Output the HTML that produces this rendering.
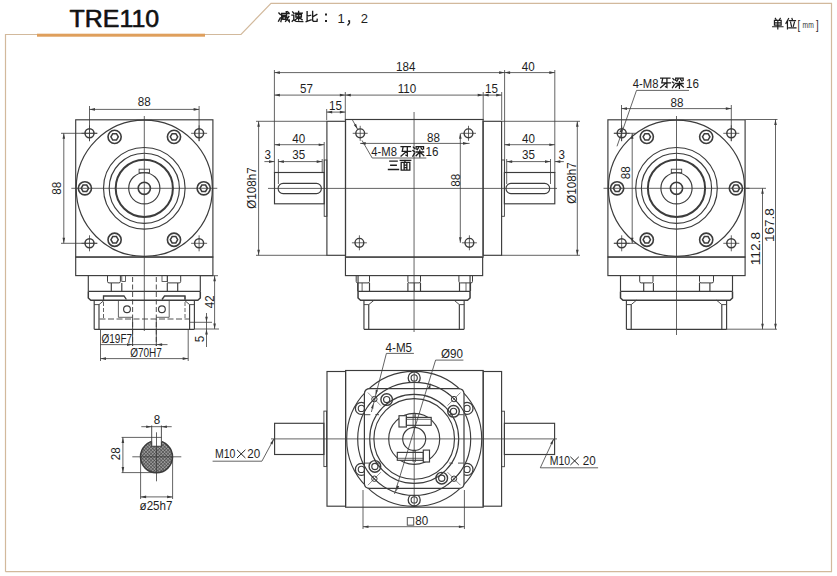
<!DOCTYPE html>
<html><head><meta charset="utf-8"><style>
html,body{margin:0;padding:0;background:#fff;}
svg{display:block;}
</style></head><body>
<svg width="837" height="576" viewBox="0 0 837 576">
<rect width="837" height="576" fill="#fff"/>
<polyline points="5.5,571.7 5.5,34.5 241,34.5 271,3.3 831.5,3.3 831.5,571.7 5.5,571.7" fill="none" stroke="#d2b99c" stroke-width="1.2"/>
<rect x="37" y="33.7" width="168" height="3" fill="#df9f5c"/>
<text x="0" y="0" transform="translate(69.6,27) scale(1.06,1)" font-family="Liberation Sans" font-size="23.5" fill="#111" stroke="#111" stroke-width="0.6" stroke-linejoin="round">TRE110</text>
<rect x="75.7" y="119.8" width="137.2" height="137.2" fill="none" stroke="#3c3c3c" stroke-width="1.15"/>
<circle cx="144.3" cy="188.3" r="68.1" fill="none" stroke="#3c3c3c" stroke-width="1.2"/>
<circle cx="144.3" cy="188.3" r="40.8" fill="none" stroke="#3c3c3c" stroke-width="1.15"/>
<circle cx="144.3" cy="188.3" r="35.1" fill="none" stroke="#3c3c3c" stroke-width="1.15"/>
<circle cx="144.3" cy="188.3" r="28.6" fill="none" stroke="#3c3c3c" stroke-width="2.0"/>
<circle cx="144.3" cy="188.3" r="15.6" fill="none" stroke="#3c3c3c" stroke-width="1.15"/>
<circle cx="144.3" cy="188.3" r="6.1" fill="none" stroke="#3c3c3c" stroke-width="1.6"/>
<rect x="139.1" y="169.2" width="10.4" height="3.5" fill="none" stroke="#3c3c3c" stroke-width="0.9"/>
<circle cx="203.7" cy="188.3" r="6.6" fill="none" stroke="#3c3c3c" stroke-width="1.6"/>
<polygon points="207.4,188.3 205.55,191.5 201.85,191.5 200,188.3 201.85,185.1 205.55,185.1" fill="none" stroke="#3c3c3c" stroke-width="1.5"/>
<circle cx="174" cy="239.74" r="6.6" fill="none" stroke="#3c3c3c" stroke-width="1.6"/>
<polygon points="177.7,239.74 175.85,242.95 172.15,242.95 170.3,239.74 172.15,236.54 175.85,236.54" fill="none" stroke="#3c3c3c" stroke-width="1.5"/>
<circle cx="114.6" cy="239.74" r="6.6" fill="none" stroke="#3c3c3c" stroke-width="1.6"/>
<polygon points="118.3,239.74 116.45,242.95 112.75,242.95 110.9,239.74 112.75,236.54 116.45,236.54" fill="none" stroke="#3c3c3c" stroke-width="1.5"/>
<circle cx="84.9" cy="188.3" r="6.6" fill="none" stroke="#3c3c3c" stroke-width="1.6"/>
<polygon points="88.6,188.3 86.75,191.5 83.05,191.5 81.2,188.3 83.05,185.1 86.75,185.1" fill="none" stroke="#3c3c3c" stroke-width="1.5"/>
<circle cx="114.6" cy="136.86" r="6.6" fill="none" stroke="#3c3c3c" stroke-width="1.6"/>
<polygon points="118.3,136.86 116.45,140.06 112.75,140.06 110.9,136.86 112.75,133.65 116.45,133.65" fill="none" stroke="#3c3c3c" stroke-width="1.5"/>
<circle cx="174" cy="136.86" r="6.6" fill="none" stroke="#3c3c3c" stroke-width="1.6"/>
<polygon points="177.7,136.86 175.85,140.06 172.15,140.06 170.3,136.86 172.15,133.65 175.85,133.65" fill="none" stroke="#3c3c3c" stroke-width="1.5"/>
<circle cx="89.5" cy="133.3" r="4.5" fill="none" stroke="#3c3c3c" stroke-width="1.5"/>
<line x1="81.5" y1="133.3" x2="97.5" y2="133.3" stroke="#3c3c3c" stroke-width="0.8"/>
<line x1="89.5" y1="125.3" x2="89.5" y2="141.3" stroke="#3c3c3c" stroke-width="0.8"/>
<circle cx="89.5" cy="243.3" r="4.5" fill="none" stroke="#3c3c3c" stroke-width="1.5"/>
<line x1="81.5" y1="243.3" x2="97.5" y2="243.3" stroke="#3c3c3c" stroke-width="0.8"/>
<line x1="89.5" y1="235.3" x2="89.5" y2="251.3" stroke="#3c3c3c" stroke-width="0.8"/>
<circle cx="199.1" cy="133.3" r="4.5" fill="none" stroke="#3c3c3c" stroke-width="1.5"/>
<line x1="191.1" y1="133.3" x2="207.1" y2="133.3" stroke="#3c3c3c" stroke-width="0.8"/>
<line x1="199.1" y1="125.3" x2="199.1" y2="141.3" stroke="#3c3c3c" stroke-width="0.8"/>
<circle cx="199.1" cy="243.3" r="4.5" fill="none" stroke="#3c3c3c" stroke-width="1.5"/>
<line x1="191.1" y1="243.3" x2="207.1" y2="243.3" stroke="#3c3c3c" stroke-width="0.8"/>
<line x1="199.1" y1="235.3" x2="199.1" y2="251.3" stroke="#3c3c3c" stroke-width="0.8"/>
<line x1="71.3" y1="188.3" x2="217.3" y2="188.3" stroke="#3c3c3c" stroke-width="0.8"/>
<line x1="144.3" y1="116" x2="144.3" y2="331" stroke="#3c3c3c" stroke-width="0.8"/>
<rect x="75.7" y="257.1" width="137.2" height="18.5" fill="none" stroke="#3c3c3c" stroke-width="1.15"/>
<line x1="88.3" y1="275.6" x2="88.3" y2="291.4" stroke="#3c3c3c" stroke-width="1.15"/>
<line x1="200.3" y1="275.6" x2="200.3" y2="291.4" stroke="#3c3c3c" stroke-width="1.15"/>
<line x1="88.3" y1="291.4" x2="200.3" y2="291.4" stroke="#3c3c3c" stroke-width="1.15"/>
<polyline points="88.3,291.4 88.3,298 90.8,300.2 197.8,300.2 200.3,298 200.3,291.4" fill="none" stroke="#3c3c3c" stroke-width="1.5"/>
<line x1="94.2" y1="300.2" x2="94.2" y2="329.3" stroke="#3c3c3c" stroke-width="1.15"/>
<line x1="194.4" y1="300.2" x2="194.4" y2="329.3" stroke="#3c3c3c" stroke-width="1.15"/>
<line x1="94.2" y1="329.3" x2="194.4" y2="329.3" stroke="#3c3c3c" stroke-width="1.15"/>
<line x1="99" y1="304.6" x2="99" y2="329.3" stroke="#3c3c3c" stroke-width="1.15"/>
<line x1="189.6" y1="304.6" x2="189.6" y2="329.3" stroke="#3c3c3c" stroke-width="1.15"/>
<polyline points="94.2,304.6 99,304.6 104.3,300.2" fill="none" stroke="#3c3c3c" stroke-width="0.9"/>
<polyline points="194.4,304.6 189.6,304.6 184.3,300.2" fill="none" stroke="#3c3c3c" stroke-width="0.9"/>
<path d="M107.5,275.6 L107.5,281.4 Q107.5,282.9 109,282.9 L118.9,282.9 Q120.4,282.9 120.4,281.4 L120.4,275.6" fill="none" stroke="#3c3c3c" stroke-width="1"/>
<line x1="111.3" y1="282.9" x2="111.3" y2="291.4" stroke="#3c3c3c" stroke-width="1.15"/>
<line x1="121.8" y1="282.9" x2="121.8" y2="291.4" stroke="#3c3c3c" stroke-width="1.15"/>
<path d="M167.3,275.6 L167.3,281.4 Q167.3,282.9 168.8,282.9 L179.2,282.9 Q180.7,282.9 180.7,281.4 L180.7,275.6" fill="none" stroke="#3c3c3c" stroke-width="1"/>
<line x1="167.3" y1="282.9" x2="167.3" y2="291.4" stroke="#3c3c3c" stroke-width="1.15"/>
<line x1="177.7" y1="282.9" x2="177.7" y2="291.4" stroke="#3c3c3c" stroke-width="1.15"/>
<rect x="121.8" y="275.6" width="3.7" height="5.9" fill="none" stroke="#3c3c3c" stroke-width="0.8"/>
<rect x="162" y="275.6" width="5.3" height="5.9" fill="none" stroke="#3c3c3c" stroke-width="0.8"/>
<line x1="132.6" y1="277" x2="132.6" y2="346" stroke="#3c3c3c" stroke-width="0.9" stroke-dasharray="5,2.5"/>
<line x1="156.3" y1="277" x2="156.3" y2="346" stroke="#3c3c3c" stroke-width="0.9" stroke-dasharray="5,2.5"/>
<line x1="132.6" y1="319" x2="132.6" y2="346" stroke="#3c3c3c" stroke-width="0.9"/>
<line x1="156.3" y1="319" x2="156.3" y2="346" stroke="#3c3c3c" stroke-width="0.9"/>
<circle cx="127" cy="309.3" r="3.4" fill="none" stroke="#3c3c3c" stroke-width="1.15"/>
<circle cx="161.9" cy="309.3" r="3.4" fill="none" stroke="#3c3c3c" stroke-width="1.15"/>
<polyline points="118.4,300.2 118.4,317.3 132.6,317.3" fill="none" stroke="#3c3c3c" stroke-width="0.8"/>
<polyline points="156.3,317.3 169.2,317.3 169.2,300.2" fill="none" stroke="#3c3c3c" stroke-width="0.8"/>
<line x1="99.5" y1="319" x2="189.5" y2="319" stroke="#3c3c3c" stroke-width="0.9" stroke-dasharray="6,2.5"/>
<line x1="103.5" y1="296" x2="103.5" y2="319" stroke="#3c3c3c" stroke-width="0.8" stroke-dasharray="4,2"/>
<line x1="185" y1="296" x2="185" y2="319" stroke="#3c3c3c" stroke-width="0.8" stroke-dasharray="4,2"/>
<polyline points="103.5,299.5 103.5,296 124,296 126.4,299.5" fill="none" stroke="#3c3c3c" stroke-width="1.3"/>
<polyline points="185,299.5 185,296 164.5,296 162,299.5" fill="none" stroke="#3c3c3c" stroke-width="1.3"/>
<line x1="89.5" y1="106" x2="89.5" y2="141" stroke="#3c3c3c" stroke-width="0.8"/>
<line x1="199.1" y1="106" x2="199.1" y2="141" stroke="#3c3c3c" stroke-width="0.8"/>
<line x1="89.5" y1="109.4" x2="199.1" y2="109.4" stroke="#3c3c3c" stroke-width="0.8"/>
<polygon points="89.5,109.4 95,108.1 95,110.7" fill="#3c3c3c"/>
<polygon points="199.1,109.4 193.6,110.7 193.6,108.1" fill="#3c3c3c"/>
<text x="0" y="0" font-family="Liberation Sans" font-size="12.5" font-weight="normal" text-anchor="middle" fill="#1e1e1e" transform="translate(144.3,106.3) rotate(0) scale(0.93,1)">88</text>
<line x1="61" y1="133.3" x2="97" y2="133.3" stroke="#3c3c3c" stroke-width="0.8"/>
<line x1="61" y1="243.3" x2="97" y2="243.3" stroke="#3c3c3c" stroke-width="0.8"/>
<line x1="63.8" y1="133.3" x2="63.8" y2="243.3" stroke="#3c3c3c" stroke-width="0.8"/>
<polygon points="63.8,133.3 65.1,138.8 62.5,138.8" fill="#3c3c3c"/>
<polygon points="63.8,243.3 62.5,237.8 65.1,237.8" fill="#3c3c3c"/>
<text x="0" y="0" font-family="Liberation Sans" font-size="12.5" font-weight="normal" text-anchor="middle" fill="#1e1e1e" transform="translate(60.8,188.3) rotate(-90) scale(0.93,1)">88</text>
<line x1="201" y1="275.7" x2="218" y2="275.7" stroke="#3c3c3c" stroke-width="0.8"/>
<line x1="194.4" y1="329" x2="219" y2="329" stroke="#3c3c3c" stroke-width="0.8"/>
<line x1="214.6" y1="275.7" x2="214.6" y2="329" stroke="#3c3c3c" stroke-width="0.8"/>
<polygon points="214.6,275.7 215.9,281.2 213.3,281.2" fill="#3c3c3c"/>
<polygon points="214.6,329 213.3,323.5 215.9,323.5" fill="#3c3c3c"/>
<text x="0" y="0" font-family="Liberation Sans" font-size="12.5" font-weight="normal" text-anchor="middle" fill="#1e1e1e" transform="translate(214.3,301.7) rotate(-90) scale(0.93,1)">42</text>
<line x1="190" y1="322.3" x2="212" y2="322.3" stroke="#3c3c3c" stroke-width="0.8"/>
<line x1="206.5" y1="313" x2="206.5" y2="347" stroke="#3c3c3c" stroke-width="0.8"/>
<polygon points="206.5,322.3 205.2,316.8 207.8,316.8" fill="#3c3c3c"/>
<polygon points="206.5,329 207.8,334.5 205.2,334.5" fill="#3c3c3c"/>
<text x="0" y="0" font-family="Liberation Sans" font-size="12.5" font-weight="normal" text-anchor="middle" fill="#1e1e1e" transform="translate(204.3,339) rotate(-90) scale(0.93,1)">5</text>
<line x1="100.5" y1="329" x2="100.5" y2="361" stroke="#3c3c3c" stroke-width="0.8"/>
<line x1="188.2" y1="329" x2="188.2" y2="361" stroke="#3c3c3c" stroke-width="0.8"/>
<line x1="100.5" y1="358.6" x2="188.2" y2="358.6" stroke="#3c3c3c" stroke-width="0.8"/>
<polygon points="100.5,358.6 106,357.3 106,359.9" fill="#3c3c3c"/>
<polygon points="188.2,358.6 182.7,359.9 182.7,357.3" fill="#3c3c3c"/>
<text x="0" y="0" font-family="Liberation Sans" font-size="12.5" font-weight="normal" text-anchor="middle" fill="#1e1e1e" transform="translate(146,357) rotate(0) scale(0.8,1)">Ø70H7</text>
<line x1="100.5" y1="344.6" x2="167.5" y2="344.6" stroke="#3c3c3c" stroke-width="0.8"/>
<polygon points="132.5,344.6 127,345.9 127,343.3" fill="#3c3c3c"/>
<polygon points="156.6,344.6 162.1,343.3 162.1,345.9" fill="#3c3c3c"/>
<text x="0" y="0" font-family="Liberation Sans" font-size="12.5" font-weight="normal" text-anchor="middle" fill="#1e1e1e" transform="translate(116.8,342.6) rotate(0) scale(0.8,1)">Ø19F7</text>
<rect x="607.9" y="119.8" width="137.2" height="137.2" fill="none" stroke="#3c3c3c" stroke-width="1.15"/>
<circle cx="676.5" cy="188.3" r="68.1" fill="none" stroke="#3c3c3c" stroke-width="1.2"/>
<circle cx="676.5" cy="188.3" r="40.8" fill="none" stroke="#3c3c3c" stroke-width="1.15"/>
<circle cx="676.5" cy="188.3" r="35.1" fill="none" stroke="#3c3c3c" stroke-width="1.15"/>
<circle cx="676.5" cy="188.3" r="28.6" fill="none" stroke="#3c3c3c" stroke-width="2.0"/>
<circle cx="676.5" cy="188.3" r="15.6" fill="none" stroke="#3c3c3c" stroke-width="1.15"/>
<circle cx="676.5" cy="188.3" r="6.1" fill="none" stroke="#3c3c3c" stroke-width="1.6"/>
<rect x="671.3" y="169.2" width="10.4" height="3.5" fill="none" stroke="#3c3c3c" stroke-width="0.9"/>
<circle cx="735.9" cy="188.3" r="6.6" fill="none" stroke="#3c3c3c" stroke-width="1.6"/>
<polygon points="739.6,188.3 737.75,191.5 734.05,191.5 732.2,188.3 734.05,185.1 737.75,185.1" fill="none" stroke="#3c3c3c" stroke-width="1.5"/>
<circle cx="706.2" cy="239.74" r="6.6" fill="none" stroke="#3c3c3c" stroke-width="1.6"/>
<polygon points="709.9,239.74 708.05,242.95 704.35,242.95 702.5,239.74 704.35,236.54 708.05,236.54" fill="none" stroke="#3c3c3c" stroke-width="1.5"/>
<circle cx="646.8" cy="239.74" r="6.6" fill="none" stroke="#3c3c3c" stroke-width="1.6"/>
<polygon points="650.5,239.74 648.65,242.95 644.95,242.95 643.1,239.74 644.95,236.54 648.65,236.54" fill="none" stroke="#3c3c3c" stroke-width="1.5"/>
<circle cx="617.1" cy="188.3" r="6.6" fill="none" stroke="#3c3c3c" stroke-width="1.6"/>
<polygon points="620.8,188.3 618.95,191.5 615.25,191.5 613.4,188.3 615.25,185.1 618.95,185.1" fill="none" stroke="#3c3c3c" stroke-width="1.5"/>
<circle cx="646.8" cy="136.86" r="6.6" fill="none" stroke="#3c3c3c" stroke-width="1.6"/>
<polygon points="650.5,136.86 648.65,140.06 644.95,140.06 643.1,136.86 644.95,133.65 648.65,133.65" fill="none" stroke="#3c3c3c" stroke-width="1.5"/>
<circle cx="706.2" cy="136.86" r="6.6" fill="none" stroke="#3c3c3c" stroke-width="1.6"/>
<polygon points="709.9,136.86 708.05,140.06 704.35,140.06 702.5,136.86 704.35,133.65 708.05,133.65" fill="none" stroke="#3c3c3c" stroke-width="1.5"/>
<circle cx="621.7" cy="133.3" r="4.5" fill="none" stroke="#3c3c3c" stroke-width="1.5"/>
<line x1="613.7" y1="133.3" x2="629.7" y2="133.3" stroke="#3c3c3c" stroke-width="0.8"/>
<line x1="621.7" y1="125.3" x2="621.7" y2="141.3" stroke="#3c3c3c" stroke-width="0.8"/>
<circle cx="621.7" cy="243.3" r="4.5" fill="none" stroke="#3c3c3c" stroke-width="1.5"/>
<line x1="613.7" y1="243.3" x2="629.7" y2="243.3" stroke="#3c3c3c" stroke-width="0.8"/>
<line x1="621.7" y1="235.3" x2="621.7" y2="251.3" stroke="#3c3c3c" stroke-width="0.8"/>
<circle cx="731.3" cy="133.3" r="4.5" fill="none" stroke="#3c3c3c" stroke-width="1.5"/>
<line x1="723.3" y1="133.3" x2="739.3" y2="133.3" stroke="#3c3c3c" stroke-width="0.8"/>
<line x1="731.3" y1="125.3" x2="731.3" y2="141.3" stroke="#3c3c3c" stroke-width="0.8"/>
<circle cx="731.3" cy="243.3" r="4.5" fill="none" stroke="#3c3c3c" stroke-width="1.5"/>
<line x1="723.3" y1="243.3" x2="739.3" y2="243.3" stroke="#3c3c3c" stroke-width="0.8"/>
<line x1="731.3" y1="235.3" x2="731.3" y2="251.3" stroke="#3c3c3c" stroke-width="0.8"/>
<line x1="603.5" y1="188.3" x2="749.5" y2="188.3" stroke="#3c3c3c" stroke-width="0.8"/>
<line x1="676.5" y1="116" x2="676.5" y2="335" stroke="#3c3c3c" stroke-width="0.8"/>
<rect x="607.9" y="257.1" width="137.2" height="18.5" fill="none" stroke="#3c3c3c" stroke-width="1.15"/>
<line x1="620.5" y1="275.6" x2="620.5" y2="291.4" stroke="#3c3c3c" stroke-width="1.15"/>
<line x1="732.5" y1="275.6" x2="732.5" y2="291.4" stroke="#3c3c3c" stroke-width="1.15"/>
<line x1="620.5" y1="291.4" x2="732.5" y2="291.4" stroke="#3c3c3c" stroke-width="1.15"/>
<polyline points="620.5,291.4 620.5,298 623,300.2 730,300.2 732.5,298 732.5,291.4" fill="none" stroke="#3c3c3c" stroke-width="1.5"/>
<line x1="626.4" y1="300.2" x2="626.4" y2="329.3" stroke="#3c3c3c" stroke-width="1.15"/>
<line x1="726.6" y1="300.2" x2="726.6" y2="329.3" stroke="#3c3c3c" stroke-width="1.15"/>
<line x1="626.4" y1="329.3" x2="726.6" y2="329.3" stroke="#3c3c3c" stroke-width="1.15"/>
<line x1="631.2" y1="304.6" x2="631.2" y2="329.3" stroke="#3c3c3c" stroke-width="1.15"/>
<line x1="721.8" y1="304.6" x2="721.8" y2="329.3" stroke="#3c3c3c" stroke-width="1.15"/>
<polyline points="626.4,304.6 631.2,304.6 636.5,300.2" fill="none" stroke="#3c3c3c" stroke-width="0.9"/>
<polyline points="726.6,304.6 721.8,304.6 716.5,300.2" fill="none" stroke="#3c3c3c" stroke-width="0.9"/>
<path d="M639.7,275.6 L639.7,281.4 Q639.7,282.9 641.2,282.9 L651.5,282.9 Q653,282.9 653,281.4 L653,275.6" fill="none" stroke="#3c3c3c" stroke-width="1"/>
<line x1="643.7" y1="282.9" x2="643.7" y2="291.4" stroke="#3c3c3c" stroke-width="1.15"/>
<line x1="653.4" y1="282.9" x2="653.4" y2="291.4" stroke="#3c3c3c" stroke-width="1.15"/>
<path d="M699.5,275.6 L699.5,281.4 Q699.5,282.9 701,282.9 L712,282.9 Q713.5,282.9 713.5,281.4 L713.5,275.6" fill="none" stroke="#3c3c3c" stroke-width="1"/>
<line x1="699.5" y1="282.9" x2="699.5" y2="291.4" stroke="#3c3c3c" stroke-width="1.15"/>
<line x1="709.9" y1="282.9" x2="709.9" y2="291.4" stroke="#3c3c3c" stroke-width="1.15"/>
<line x1="621.5" y1="105" x2="621.5" y2="141" stroke="#3c3c3c" stroke-width="0.8"/>
<line x1="731.3" y1="105" x2="731.3" y2="141" stroke="#3c3c3c" stroke-width="0.8"/>
<line x1="621.5" y1="108.6" x2="731.3" y2="108.6" stroke="#3c3c3c" stroke-width="0.8"/>
<polygon points="621.5,108.6 627,107.3 627,109.9" fill="#3c3c3c"/>
<polygon points="731.3,108.6 725.8,109.9 725.8,107.3" fill="#3c3c3c"/>
<text x="0" y="0" font-family="Liberation Sans" font-size="12.5" font-weight="normal" text-anchor="middle" fill="#1e1e1e" transform="translate(677,107.3) rotate(0) scale(0.93,1)">88</text>
<line x1="614" y1="133.3" x2="636" y2="133.3" stroke="#3c3c3c" stroke-width="0.8"/>
<line x1="614" y1="243.3" x2="636" y2="243.3" stroke="#3c3c3c" stroke-width="0.8"/>
<line x1="632.2" y1="133.3" x2="632.2" y2="243.3" stroke="#3c3c3c" stroke-width="0.8"/>
<polygon points="632.2,133.3 633.5,138.8 630.9,138.8" fill="#3c3c3c"/>
<polygon points="632.2,243.3 630.9,237.8 633.5,237.8" fill="#3c3c3c"/>
<text x="0" y="0" font-family="Liberation Sans" font-size="12.5" font-weight="normal" text-anchor="middle" fill="#1e1e1e" transform="translate(629.8,172.8) rotate(-90) scale(0.93,1)">88</text>
<line x1="745.3" y1="119.5" x2="777.5" y2="119.5" stroke="#3c3c3c" stroke-width="0.8"/>
<line x1="746" y1="188.3" x2="766" y2="188.3" stroke="#3c3c3c" stroke-width="0.8"/>
<line x1="726" y1="329.2" x2="777" y2="329.2" stroke="#3c3c3c" stroke-width="0.8"/>
<line x1="775.5" y1="119.5" x2="775.5" y2="329.2" stroke="#3c3c3c" stroke-width="0.8"/>
<polygon points="775.5,119.5 776.8,125 774.2,125" fill="#3c3c3c"/>
<polygon points="775.5,329.2 774.2,323.7 776.8,323.7" fill="#3c3c3c"/>
<line x1="762.5" y1="188.3" x2="762.5" y2="329.2" stroke="#3c3c3c" stroke-width="0.8"/>
<polygon points="762.5,188.3 763.8,193.8 761.2,193.8" fill="#3c3c3c"/>
<polygon points="762.5,329.2 761.2,323.7 763.8,323.7" fill="#3c3c3c"/>
<text x="0" y="0" font-family="Liberation Sans" font-size="12.5" font-weight="normal" text-anchor="middle" fill="#1e1e1e" transform="translate(773.6,225.1) rotate(-90) scale(1.08,1)">167.8</text>
<text x="0" y="0" font-family="Liberation Sans" font-size="12.5" font-weight="normal" text-anchor="middle" fill="#1e1e1e" transform="translate(759.6,248.6) rotate(-90) scale(1.1,1)">112.8</text>
<line x1="617" y1="146.3" x2="636.5" y2="90.4" stroke="#3c3c3c" stroke-width="0.8"/>
<line x1="636.5" y1="90.4" x2="689" y2="90.4" stroke="#3c3c3c" stroke-width="0.8"/>
<polygon points="622.5,127 621.92,132.62 619.46,131.76" fill="#3c3c3c"/>
<text x="0" y="0" font-family="Liberation Sans" font-size="12.5" font-weight="normal" text-anchor="start" fill="#1e1e1e" transform="translate(632.8,88.3) rotate(0) scale(0.9,1)">4-M8</text>
<path d="M660.66,78.16 L669.94,78.16 M662.75,78.16 L661.82,82.80 L670.40,82.80 M666.92,78.16 L666.92,87.44 L665.53,86.74 M666.23,82.80 L660.66,87.67" fill="none" stroke="#1e1e1e" stroke-width="1.3" stroke-linecap="square" stroke-linejoin="miter"/>
<path d="M672.93,78.62 L674.09,79.78 M672.46,82.10 L673.86,83.03 M672.46,87.67 L674.32,84.66 M675.71,80.25 L675.71,78.16 L683.14,78.16 L683.14,80.25 M678.03,79.32 L676.87,81.18 M680.58,79.32 L681.98,81.18 M675.71,83.50 L683.14,83.50 M679.42,81.64 L679.42,88.37 M679.19,83.73 L675.71,87.21 M679.66,83.73 L683.37,86.98" fill="none" stroke="#1e1e1e" stroke-width="1.3" stroke-linecap="square" stroke-linejoin="miter"/>
<text x="0" y="0" font-family="Liberation Sans" font-size="12.5" font-weight="normal" text-anchor="start" fill="#1e1e1e" transform="translate(686,88.3) rotate(0) scale(0.93,1)">16</text>
<rect x="345.5" y="119.5" width="137.6" height="137.6" fill="none" stroke="#3c3c3c" stroke-width="1.15"/>
<rect x="326.9" y="121.3" width="18.6" height="134" fill="none" stroke="#3c3c3c" stroke-width="1.15"/>
<rect x="483.1" y="121.3" width="18.5" height="134" fill="none" stroke="#3c3c3c" stroke-width="1.15"/>
<rect x="324.2" y="160" width="2.7" height="56.3" fill="none" stroke="#3c3c3c" stroke-width="0.9"/>
<rect x="501.6" y="160" width="2.8" height="56.3" fill="none" stroke="#3c3c3c" stroke-width="0.9"/>
<rect x="274.5" y="172.5" width="49.7" height="31.3" fill="none" stroke="#3c3c3c" stroke-width="1.15"/>
<rect x="504.4" y="172.5" width="50.4" height="31.3" fill="none" stroke="#3c3c3c" stroke-width="1.15"/>
<rect x="278.1" y="183.4" width="43.3" height="10.2" rx="5" fill="none" stroke="#3c3c3c" stroke-width="1.15"/>
<rect x="506" y="183.4" width="43.7" height="10.2" rx="5" fill="none" stroke="#3c3c3c" stroke-width="1.15"/>
<line x1="268" y1="188.4" x2="557" y2="188.4" stroke="#3c3c3c" stroke-width="0.8"/>
<line x1="414.05" y1="112" x2="414.05" y2="332" stroke="#3c3c3c" stroke-width="0.8"/>
<circle cx="360.2" cy="133.3" r="4.4" fill="none" stroke="#3c3c3c" stroke-width="1.4"/>
<line x1="352.7" y1="133.3" x2="367.7" y2="133.3" stroke="#3c3c3c" stroke-width="0.8"/>
<line x1="360.2" y1="125.8" x2="360.2" y2="140.8" stroke="#3c3c3c" stroke-width="0.8"/>
<circle cx="468.5" cy="133.3" r="4.4" fill="none" stroke="#3c3c3c" stroke-width="1.4"/>
<line x1="461" y1="133.3" x2="476" y2="133.3" stroke="#3c3c3c" stroke-width="0.8"/>
<line x1="468.5" y1="125.8" x2="468.5" y2="140.8" stroke="#3c3c3c" stroke-width="0.8"/>
<circle cx="359.4" cy="242.8" r="4.4" fill="none" stroke="#3c3c3c" stroke-width="1.4"/>
<line x1="351.9" y1="242.8" x2="366.9" y2="242.8" stroke="#3c3c3c" stroke-width="0.8"/>
<line x1="359.4" y1="235.3" x2="359.4" y2="250.3" stroke="#3c3c3c" stroke-width="0.8"/>
<circle cx="469.4" cy="242.8" r="4.4" fill="none" stroke="#3c3c3c" stroke-width="1.4"/>
<line x1="461.9" y1="242.8" x2="476.9" y2="242.8" stroke="#3c3c3c" stroke-width="0.8"/>
<line x1="469.4" y1="235.3" x2="469.4" y2="250.3" stroke="#3c3c3c" stroke-width="0.8"/>
<rect x="345.45" y="257.1" width="137.2" height="18.5" fill="none" stroke="#3c3c3c" stroke-width="1.15"/>
<line x1="358.05" y1="275.6" x2="358.05" y2="291.4" stroke="#3c3c3c" stroke-width="1.15"/>
<line x1="470.05" y1="275.6" x2="470.05" y2="291.4" stroke="#3c3c3c" stroke-width="1.15"/>
<line x1="358.05" y1="291.4" x2="470.05" y2="291.4" stroke="#3c3c3c" stroke-width="1.15"/>
<polyline points="358.05,291.4 358.05,298 360.55,300.2 467.55,300.2 470.05,298 470.05,291.4" fill="none" stroke="#3c3c3c" stroke-width="1.5"/>
<line x1="363.95" y1="300.2" x2="363.95" y2="329.3" stroke="#3c3c3c" stroke-width="1.15"/>
<line x1="464.15" y1="300.2" x2="464.15" y2="329.3" stroke="#3c3c3c" stroke-width="1.15"/>
<line x1="363.95" y1="329.3" x2="464.15" y2="329.3" stroke="#3c3c3c" stroke-width="1.15"/>
<line x1="368.75" y1="304.6" x2="368.75" y2="329.3" stroke="#3c3c3c" stroke-width="1.15"/>
<line x1="459.35" y1="304.6" x2="459.35" y2="329.3" stroke="#3c3c3c" stroke-width="1.15"/>
<polyline points="363.95,304.6 368.75,304.6 374.05,300.2" fill="none" stroke="#3c3c3c" stroke-width="0.9"/>
<polyline points="464.15,304.6 459.35,304.6 454.05,300.2" fill="none" stroke="#3c3c3c" stroke-width="0.9"/>
<path d="M356.2,275.6 L356.2,281.4 Q356.2,282.9 357.7,282.9 L368,282.9 Q369.5,282.9 369.5,281.4 L369.5,275.6" fill="none" stroke="#3c3c3c" stroke-width="1"/>
<line x1="357.7" y1="282.9" x2="357.7" y2="291.4" stroke="#3c3c3c" stroke-width="1.15"/>
<line x1="369.5" y1="282.9" x2="369.5" y2="291.4" stroke="#3c3c3c" stroke-width="1.15"/>
<line x1="362.1" y1="282.9" x2="362.1" y2="291.4" stroke="#3c3c3c" stroke-width="0.8"/>
<path d="M407.9,275.6 L407.9,281.4 Q407.9,282.9 409.4,282.9 L419,282.9 Q420.5,282.9 420.5,281.4 L420.5,275.6" fill="none" stroke="#3c3c3c" stroke-width="1"/>
<line x1="407.9" y1="282.9" x2="407.9" y2="291.4" stroke="#3c3c3c" stroke-width="1.15"/>
<line x1="420.5" y1="282.9" x2="420.5" y2="291.4" stroke="#3c3c3c" stroke-width="1.15"/>
<line x1="414.3" y1="282.9" x2="414.3" y2="291.4" stroke="#3c3c3c" stroke-width="0.8"/>
<path d="M458.9,275.6 L458.9,281.4 Q458.9,282.9 460.4,282.9 L471,282.9 Q472.5,282.9 472.5,281.4 L472.5,275.6" fill="none" stroke="#3c3c3c" stroke-width="1"/>
<line x1="459.5" y1="282.9" x2="459.5" y2="291.4" stroke="#3c3c3c" stroke-width="1.15"/>
<line x1="470.5" y1="282.9" x2="470.5" y2="291.4" stroke="#3c3c3c" stroke-width="1.15"/>
<line x1="466" y1="282.9" x2="466" y2="291.4" stroke="#3c3c3c" stroke-width="0.8"/>
<line x1="274.4" y1="70" x2="274.4" y2="173" stroke="#3c3c3c" stroke-width="0.8"/>
<line x1="504.6" y1="70" x2="504.6" y2="173" stroke="#3c3c3c" stroke-width="0.8"/>
<line x1="554.8" y1="70" x2="554.8" y2="173" stroke="#3c3c3c" stroke-width="0.8"/>
<line x1="274.4" y1="72.6" x2="504.6" y2="72.6" stroke="#3c3c3c" stroke-width="0.8"/>
<polygon points="274.4,72.6 279.9,71.3 279.9,73.9" fill="#3c3c3c"/>
<polygon points="504.6,72.6 499.1,73.9 499.1,71.3" fill="#3c3c3c"/>
<line x1="504.6" y1="72.6" x2="554.8" y2="72.6" stroke="#3c3c3c" stroke-width="0.8"/>
<polygon points="504.6,72.6 510.1,71.3 510.1,73.9" fill="#3c3c3c"/>
<polygon points="554.8,72.6 549.3,73.9 549.3,71.3" fill="#3c3c3c"/>
<text x="0" y="0" font-family="Liberation Sans" font-size="12.5" font-weight="normal" text-anchor="middle" fill="#1e1e1e" transform="translate(405.8,71.1) rotate(0) scale(0.93,1)">184</text>
<text x="0" y="0" font-family="Liberation Sans" font-size="12.5" font-weight="normal" text-anchor="middle" fill="#1e1e1e" transform="translate(528.3,71.1) rotate(0) scale(0.93,1)">40</text>
<line x1="345.3" y1="92" x2="345.3" y2="120" stroke="#3c3c3c" stroke-width="0.8"/>
<line x1="483.2" y1="92" x2="483.2" y2="120" stroke="#3c3c3c" stroke-width="0.8"/>
<line x1="501.7" y1="92" x2="501.7" y2="120" stroke="#3c3c3c" stroke-width="0.8"/>
<line x1="274.4" y1="95.1" x2="345.3" y2="95.1" stroke="#3c3c3c" stroke-width="0.8"/>
<polygon points="274.4,95.1 279.9,93.8 279.9,96.4" fill="#3c3c3c"/>
<polygon points="345.3,95.1 339.8,96.4 339.8,93.8" fill="#3c3c3c"/>
<line x1="345.3" y1="95.1" x2="483.2" y2="95.1" stroke="#3c3c3c" stroke-width="0.8"/>
<polygon points="345.3,95.1 350.8,93.8 350.8,96.4" fill="#3c3c3c"/>
<polygon points="483.2,95.1 477.7,96.4 477.7,93.8" fill="#3c3c3c"/>
<line x1="483.2" y1="95.1" x2="501.7" y2="95.1" stroke="#3c3c3c" stroke-width="0.8"/>
<polygon points="483.2,95.1 488.7,93.8 488.7,96.4" fill="#3c3c3c"/>
<polygon points="501.7,95.1 496.2,96.4 496.2,93.8" fill="#3c3c3c"/>
<text x="0" y="0" font-family="Liberation Sans" font-size="12.5" font-weight="normal" text-anchor="middle" fill="#1e1e1e" transform="translate(306.4,93.3) rotate(0) scale(0.93,1)">57</text>
<text x="0" y="0" font-family="Liberation Sans" font-size="12.5" font-weight="normal" text-anchor="middle" fill="#1e1e1e" transform="translate(406.9,93.3) rotate(0) scale(0.93,1)">110</text>
<text x="0" y="0" font-family="Liberation Sans" font-size="12.5" font-weight="normal" text-anchor="middle" fill="#1e1e1e" transform="translate(491.5,93.3) rotate(0) scale(0.93,1)">15</text>
<line x1="326.7" y1="109" x2="326.7" y2="120" stroke="#3c3c3c" stroke-width="0.8"/>
<line x1="326.7" y1="112.1" x2="345.3" y2="112.1" stroke="#3c3c3c" stroke-width="0.8"/>
<polygon points="326.7,112.1 332.2,110.8 332.2,113.4" fill="#3c3c3c"/>
<polygon points="345.3,112.1 339.8,113.4 339.8,110.8" fill="#3c3c3c"/>
<text x="0" y="0" font-family="Liberation Sans" font-size="12.5" font-weight="normal" text-anchor="middle" fill="#1e1e1e" transform="translate(335.5,110) rotate(0) scale(0.93,1)">15</text>
<line x1="324.2" y1="142" x2="324.2" y2="172.5" stroke="#3c3c3c" stroke-width="0.8"/>
<line x1="278.4" y1="159" x2="278.4" y2="184" stroke="#3c3c3c" stroke-width="0.8"/>
<line x1="550.5" y1="159" x2="550.5" y2="184" stroke="#3c3c3c" stroke-width="0.8"/>
<line x1="506.7" y1="159" x2="506.7" y2="184" stroke="#3c3c3c" stroke-width="0.8"/>
<line x1="322.2" y1="159" x2="322.2" y2="172.5" stroke="#3c3c3c" stroke-width="0.8"/>
<line x1="274.5" y1="144.7" x2="324.2" y2="144.7" stroke="#3c3c3c" stroke-width="0.8"/>
<polygon points="274.5,144.7 280,143.4 280,146" fill="#3c3c3c"/>
<polygon points="324.2,144.7 318.7,146 318.7,143.4" fill="#3c3c3c"/>
<line x1="278.4" y1="161.6" x2="322.2" y2="161.6" stroke="#3c3c3c" stroke-width="0.8"/>
<polygon points="278.4,161.6 283.9,160.3 283.9,162.9" fill="#3c3c3c"/>
<polygon points="322.2,161.6 316.7,162.9 316.7,160.3" fill="#3c3c3c"/>
<text x="0" y="0" font-family="Liberation Sans" font-size="12.5" font-weight="normal" text-anchor="middle" fill="#1e1e1e" transform="translate(298.8,142.8) rotate(0) scale(0.93,1)">40</text>
<text x="0" y="0" font-family="Liberation Sans" font-size="12.5" font-weight="normal" text-anchor="middle" fill="#1e1e1e" transform="translate(298.8,159.3) rotate(0) scale(0.93,1)">35</text>
<line x1="504.4" y1="144.7" x2="554.8" y2="144.7" stroke="#3c3c3c" stroke-width="0.8"/>
<polygon points="504.4,144.7 509.9,143.4 509.9,146" fill="#3c3c3c"/>
<polygon points="554.8,144.7 549.3,146 549.3,143.4" fill="#3c3c3c"/>
<line x1="506.7" y1="161.6" x2="550.5" y2="161.6" stroke="#3c3c3c" stroke-width="0.8"/>
<polygon points="506.7,161.6 512.2,160.3 512.2,162.9" fill="#3c3c3c"/>
<polygon points="550.5,161.6 545,162.9 545,160.3" fill="#3c3c3c"/>
<text x="0" y="0" font-family="Liberation Sans" font-size="12.5" font-weight="normal" text-anchor="middle" fill="#1e1e1e" transform="translate(528.5,142.6) rotate(0) scale(0.93,1)">40</text>
<text x="0" y="0" font-family="Liberation Sans" font-size="12.5" font-weight="normal" text-anchor="middle" fill="#1e1e1e" transform="translate(528.5,159) rotate(0) scale(0.93,1)">35</text>
<line x1="264.4" y1="161.6" x2="274.5" y2="161.6" stroke="#3c3c3c" stroke-width="0.8"/>
<polygon points="274.5,161.6 269,162.9 269,160.3" fill="#3c3c3c"/>
<text x="0" y="0" font-family="Liberation Sans" font-size="12.5" font-weight="normal" text-anchor="middle" fill="#1e1e1e" transform="translate(267.8,159.4) rotate(0) scale(0.93,1)">3</text>
<line x1="554.8" y1="161.6" x2="563.8" y2="161.6" stroke="#3c3c3c" stroke-width="0.8"/>
<polygon points="554.8,161.6 560.3,160.3 560.3,162.9" fill="#3c3c3c"/>
<text x="0" y="0" font-family="Liberation Sans" font-size="12.5" font-weight="normal" text-anchor="middle" fill="#1e1e1e" transform="translate(561.8,159.4) rotate(0) scale(0.93,1)">3</text>
<line x1="256" y1="121.3" x2="326.9" y2="121.3" stroke="#3c3c3c" stroke-width="0.8"/>
<line x1="256" y1="255.3" x2="326.9" y2="255.3" stroke="#3c3c3c" stroke-width="0.8"/>
<line x1="258.6" y1="121.3" x2="258.6" y2="255.3" stroke="#3c3c3c" stroke-width="0.8"/>
<polygon points="258.6,121.3 259.9,126.8 257.3,126.8" fill="#3c3c3c"/>
<polygon points="258.6,255.3 257.3,249.8 259.9,249.8" fill="#3c3c3c"/>
<text x="0" y="0" font-family="Liberation Sans" font-size="12.5" font-weight="normal" text-anchor="middle" fill="#1e1e1e" transform="translate(255.8,188) rotate(-90) scale(0.93,1)">Ø108h7</text>
<line x1="501.6" y1="121.3" x2="580" y2="121.3" stroke="#3c3c3c" stroke-width="0.8"/>
<line x1="501.6" y1="255.3" x2="580" y2="255.3" stroke="#3c3c3c" stroke-width="0.8"/>
<line x1="577.3" y1="121.3" x2="577.3" y2="255.3" stroke="#3c3c3c" stroke-width="0.8"/>
<polygon points="577.3,121.3 578.6,126.8 576,126.8" fill="#3c3c3c"/>
<polygon points="577.3,255.3 576,249.8 578.6,249.8" fill="#3c3c3c"/>
<text x="0" y="0" font-family="Liberation Sans" font-size="12.5" font-weight="normal" text-anchor="middle" fill="#1e1e1e" transform="translate(575.8,183) rotate(-90) scale(0.93,1)">Ø108h7</text>
<line x1="360.2" y1="143.4" x2="469.6" y2="143.4" stroke="#3c3c3c" stroke-width="0.8"/>
<polygon points="360.2,143.4 365.7,142.1 365.7,144.7" fill="#3c3c3c"/>
<polygon points="468.5,143.4 463,144.7 463,142.1" fill="#3c3c3c"/>
<text x="0" y="0" font-family="Liberation Sans" font-size="12.5" font-weight="normal" text-anchor="middle" fill="#1e1e1e" transform="translate(433.5,142.3) rotate(0) scale(0.93,1)">88</text>
<line x1="460.3" y1="133.3" x2="460.3" y2="242.8" stroke="#3c3c3c" stroke-width="0.8"/>
<polygon points="460.3,133.3 461.6,138.8 459,138.8" fill="#3c3c3c"/>
<polygon points="460.3,242.8 459,237.3 461.6,237.3" fill="#3c3c3c"/>
<text x="0" y="0" font-family="Liberation Sans" font-size="12.5" font-weight="normal" text-anchor="middle" fill="#1e1e1e" transform="translate(459.8,180.3) rotate(-90) scale(0.93,1)">88</text>
<line x1="352.2" y1="119.5" x2="358" y2="130" stroke="#3c3c3c" stroke-width="0.8"/>
<polygon points="357.6,129.2 353.8,125.01 356.08,123.76" fill="#3c3c3c"/>
<line x1="362" y1="140.4" x2="372.2" y2="158" stroke="#3c3c3c" stroke-width="0.8"/>
<line x1="372.2" y1="158" x2="426.3" y2="158" stroke="#3c3c3c" stroke-width="0.8"/>
<text x="0" y="0" font-family="Liberation Sans" font-size="12.5" font-weight="normal" text-anchor="start" fill="#1e1e1e" transform="translate(371.3,155.8) rotate(0) scale(0.9,1)">4-M8</text>
<path d="M401.06,146.66 L410.34,146.66 M403.15,146.66 L402.22,151.30 L410.80,151.30 M407.32,146.66 L407.32,155.94 L405.93,155.24 M406.63,151.30 L401.06,156.17" fill="none" stroke="#1e1e1e" stroke-width="1.3" stroke-linecap="square" stroke-linejoin="miter"/>
<path d="M413.33,147.12 L414.49,148.28 M412.86,150.60 L414.26,151.53 M412.86,156.17 L414.72,153.16 M416.11,148.75 L416.11,146.66 L423.54,146.66 L423.54,148.75 M418.43,147.82 L417.27,149.68 M420.98,147.82 L422.38,149.68 M416.11,152.00 L423.54,152.00 M419.82,150.14 L419.82,156.87 M419.59,152.23 L416.11,155.71 M420.06,152.23 L423.77,155.48" fill="none" stroke="#1e1e1e" stroke-width="1.3" stroke-linecap="square" stroke-linejoin="miter"/>
<text x="0" y="0" font-family="Liberation Sans" font-size="12.5" font-weight="normal" text-anchor="start" fill="#1e1e1e" transform="translate(425.5,155.8) rotate(0) scale(0.93,1)">16</text>
<path d="M389.85,161.10 L397.15,161.10 M390.76,165.20 L396.24,165.20 M388.48,169.53 L398.52,169.53" fill="none" stroke="#1e1e1e" stroke-width="1.35" stroke-linecap="square" stroke-linejoin="miter"/>
<path d="M400.26,160.41 L410.74,160.41 M405.27,160.41 L404.59,162.46 M401.17,162.46 L409.83,162.46 L409.83,170.22 L401.17,170.22 L401.17,162.46 M404.13,162.46 L404.13,170.22 M406.87,162.46 L406.87,170.22 M404.13,165.20 L406.87,165.20 M404.13,167.71 L406.87,167.71" fill="none" stroke="#1e1e1e" stroke-width="1.3" stroke-linecap="square" stroke-linejoin="miter"/>
<rect x="345.6" y="370.5" width="137.6" height="136.7" fill="none" stroke="#3c3c3c" stroke-width="1.15"/>
<rect x="327" y="371.5" width="18.6" height="134.7" fill="none" stroke="#3c3c3c" stroke-width="1.15"/>
<rect x="483.2" y="371.5" width="18.4" height="134.7" fill="none" stroke="#3c3c3c" stroke-width="1.15"/>
<rect x="323.9" y="411.1" width="2.7" height="55.5" fill="none" stroke="#3c3c3c" stroke-width="0.9"/>
<rect x="501.6" y="411.2" width="2.8" height="55.5" fill="none" stroke="#3c3c3c" stroke-width="0.9"/>
<rect x="274.6" y="423.3" width="49.3" height="31.2" fill="none" stroke="#3c3c3c" stroke-width="1.15"/>
<rect x="504.4" y="423.3" width="50.2" height="31.2" fill="none" stroke="#3c3c3c" stroke-width="1.15"/>
<circle cx="414.2" cy="438.9" r="67.5" fill="none" stroke="#3c3c3c" stroke-width="1.1"/>
<circle cx="467.03" cy="469.4" r="6" fill="none" stroke="#3c3c3c" stroke-width="1.3"/>
<circle cx="467.03" cy="469.4" r="3.1" fill="none" stroke="#3c3c3c" stroke-width="1.1"/>
<circle cx="414.2" cy="499.9" r="6" fill="none" stroke="#3c3c3c" stroke-width="1.3"/>
<circle cx="414.2" cy="499.9" r="3.1" fill="none" stroke="#3c3c3c" stroke-width="1.1"/>
<circle cx="361.37" cy="469.4" r="6" fill="none" stroke="#3c3c3c" stroke-width="1.3"/>
<circle cx="361.37" cy="469.4" r="3.1" fill="none" stroke="#3c3c3c" stroke-width="1.1"/>
<circle cx="361.37" cy="408.4" r="6" fill="none" stroke="#3c3c3c" stroke-width="1.3"/>
<circle cx="361.37" cy="408.4" r="3.1" fill="none" stroke="#3c3c3c" stroke-width="1.1"/>
<circle cx="414.2" cy="377.9" r="6" fill="none" stroke="#3c3c3c" stroke-width="1.3"/>
<circle cx="414.2" cy="377.9" r="3.1" fill="none" stroke="#3c3c3c" stroke-width="1.1"/>
<circle cx="467.03" cy="408.4" r="6" fill="none" stroke="#3c3c3c" stroke-width="1.3"/>
<circle cx="467.03" cy="408.4" r="3.1" fill="none" stroke="#3c3c3c" stroke-width="1.1"/>
<path d="M364.4,394 Q364.4,388.7 370.2,388.7 L458.2,388.7 Q464,388.7 464,394.2 L464,483.6 Q464,488.4 459,488.4 L369.8,488.4 Q364.4,488.4 364.4,483.6 Z" fill="#fff" stroke="none"/>
<circle cx="414.2" cy="438.9" r="56.5" fill="#fff"/>
<path d="M364.4,394 Q364.4,388.7 370.2,388.7 L458.2,388.7 Q464,388.7 464,394.2 L464,483.6 Q464,488.4 459,488.4 L369.8,488.4 Q364.4,488.4 364.4,483.6 Z" fill="none" stroke="#3c3c3c" stroke-width="1.2"/>
<circle cx="414.2" cy="438.9" r="56.5" fill="none" stroke="#3c3c3c" stroke-width="1.15"/>
<circle cx="414.2" cy="438.9" r="44.5" fill="none" stroke="#3c3c3c" stroke-width="1.15"/>
<circle cx="414.2" cy="438.9" r="40.3" fill="none" stroke="#3c3c3c" stroke-width="1.15"/>
<circle cx="414.2" cy="438.9" r="25.5" fill="none" stroke="#3c3c3c" stroke-width="1.15"/>
<circle cx="414.2" cy="438.9" r="11.5" fill="none" stroke="#3c3c3c" stroke-width="1.15"/>
<circle cx="386.67" cy="399.58" r="5.8" fill="none" stroke="#3c3c3c" stroke-width="1.4"/>
<circle cx="386.67" cy="399.58" r="3.1" fill="none" stroke="#3c3c3c" stroke-width="1.2"/>
<circle cx="453.52" cy="411.37" r="5.8" fill="none" stroke="#3c3c3c" stroke-width="1.4"/>
<circle cx="453.52" cy="411.37" r="3.1" fill="none" stroke="#3c3c3c" stroke-width="1.2"/>
<circle cx="441.73" cy="478.22" r="5.8" fill="none" stroke="#3c3c3c" stroke-width="1.4"/>
<circle cx="441.73" cy="478.22" r="3.1" fill="none" stroke="#3c3c3c" stroke-width="1.2"/>
<circle cx="374.88" cy="466.43" r="5.8" fill="none" stroke="#3c3c3c" stroke-width="1.4"/>
<circle cx="374.88" cy="466.43" r="3.1" fill="none" stroke="#3c3c3c" stroke-width="1.2"/>
<circle cx="454.01" cy="478.71" r="2.7" fill="none" stroke="#3c3c3c" stroke-width="1"/>
<line x1="447.51" y1="472.21" x2="460.51" y2="485.21" stroke="#3c3c3c" stroke-width="0.6"/>
<line x1="447.51" y1="485.21" x2="460.51" y2="472.21" stroke="#3c3c3c" stroke-width="0.6"/>
<circle cx="374.39" cy="478.71" r="2.7" fill="none" stroke="#3c3c3c" stroke-width="1"/>
<line x1="367.89" y1="472.21" x2="380.89" y2="485.21" stroke="#3c3c3c" stroke-width="0.6"/>
<line x1="367.89" y1="485.21" x2="380.89" y2="472.21" stroke="#3c3c3c" stroke-width="0.6"/>
<circle cx="374.39" cy="399.09" r="2.7" fill="none" stroke="#3c3c3c" stroke-width="1"/>
<line x1="367.89" y1="392.59" x2="380.89" y2="405.59" stroke="#3c3c3c" stroke-width="0.6"/>
<line x1="367.89" y1="405.59" x2="380.89" y2="392.59" stroke="#3c3c3c" stroke-width="0.6"/>
<circle cx="454.01" cy="399.09" r="2.7" fill="none" stroke="#3c3c3c" stroke-width="1"/>
<line x1="447.51" y1="392.59" x2="460.51" y2="405.59" stroke="#3c3c3c" stroke-width="0.6"/>
<line x1="447.51" y1="405.59" x2="460.51" y2="392.59" stroke="#3c3c3c" stroke-width="0.6"/>
<line x1="414.2" y1="372" x2="414.2" y2="507" stroke="#3c3c3c" stroke-width="0.8"/>
<line x1="271" y1="438.9" x2="557" y2="438.9" stroke="#3c3c3c" stroke-width="0.8"/>
<line x1="364.9" y1="414.7" x2="370.4" y2="414.7" stroke="#3c3c3c" stroke-width="0.9"/>
<line x1="375.3" y1="414.7" x2="379" y2="414.7" stroke="#3c3c3c" stroke-width="0.9"/>
<line x1="449.4" y1="414.7" x2="453" y2="414.7" stroke="#3c3c3c" stroke-width="0.9"/>
<line x1="458" y1="414.7" x2="463.5" y2="414.7" stroke="#3c3c3c" stroke-width="0.9"/>
<line x1="364.9" y1="463.1" x2="370.4" y2="463.1" stroke="#3c3c3c" stroke-width="0.9"/>
<line x1="375.3" y1="463.1" x2="379" y2="463.1" stroke="#3c3c3c" stroke-width="0.9"/>
<line x1="449.4" y1="463.1" x2="453" y2="463.1" stroke="#3c3c3c" stroke-width="0.9"/>
<line x1="458" y1="463.1" x2="463.5" y2="463.1" stroke="#3c3c3c" stroke-width="0.9"/>
<rect x="399" y="415.7" width="7.4" height="11.3" fill="#fff" stroke="#3c3c3c" stroke-width="1.15"/>
<rect x="406.4" y="417.4" width="24.8" height="7.9" fill="#fff" stroke="#3c3c3c" stroke-width="1.15"/>
<line x1="406.4" y1="419.3" x2="431.2" y2="419.3" stroke="#3c3c3c" stroke-width="0.8"/>
<line x1="413.1" y1="414" x2="413.1" y2="428" stroke="#3c3c3c" stroke-width="0.8"/>
<line x1="415.4" y1="414" x2="415.4" y2="428" stroke="#3c3c3c" stroke-width="0.8"/>
<rect x="397.3" y="452.4" width="26" height="7.9" fill="#fff" stroke="#3c3c3c" stroke-width="1.15"/>
<rect x="423.3" y="450.1" width="6.2" height="11.9" fill="#fff" stroke="#3c3c3c" stroke-width="1.15"/>
<line x1="397.3" y1="458.3" x2="423.3" y2="458.3" stroke="#3c3c3c" stroke-width="0.8"/>
<line x1="413.1" y1="450" x2="413.1" y2="462" stroke="#3c3c3c" stroke-width="0.8"/>
<line x1="415.4" y1="450" x2="415.4" y2="462" stroke="#3c3c3c" stroke-width="0.8"/>
<line x1="386.4" y1="353.4" x2="371.4" y2="412" stroke="#3c3c3c" stroke-width="0.8"/>
<line x1="386.4" y1="353.4" x2="413.9" y2="353.4" stroke="#3c3c3c" stroke-width="0.8"/>
<polygon points="375.6,395 375.68,389.86 378,390.45" fill="#3c3c3c"/>
<polygon points="373.4,403.5 373.32,408.64 371,408.05" fill="#3c3c3c"/>
<text x="0" y="0" font-family="Liberation Sans" font-size="12.5" font-weight="normal" text-anchor="start" fill="#1e1e1e" transform="translate(385.6,351.6) rotate(0) scale(0.93,1)">4-M5</text>
<line x1="435.6" y1="360.1" x2="394.5" y2="494" stroke="#3c3c3c" stroke-width="0.8"/>
<line x1="435.6" y1="360.1" x2="463.4" y2="360.1" stroke="#3c3c3c" stroke-width="0.8"/>
<polygon points="396.2,491.5 396.72,485.38 399.2,486.15" fill="#3c3c3c"/>
<polygon points="430.8,382.9 430.28,389.02 427.8,388.25" fill="#3c3c3c"/>
<text x="0" y="0" font-family="Liberation Sans" font-size="12.5" font-weight="normal" text-anchor="start" fill="#1e1e1e" transform="translate(441,357.8) rotate(0) scale(0.93,1)">Ø90</text>
<line x1="363" y1="490" x2="363" y2="529" stroke="#3c3c3c" stroke-width="0.8"/>
<line x1="464.4" y1="490" x2="464.4" y2="529" stroke="#3c3c3c" stroke-width="0.8"/>
<line x1="363" y1="526.7" x2="464.4" y2="526.7" stroke="#3c3c3c" stroke-width="0.8"/>
<polygon points="363,526.7 368.5,525.4 368.5,528" fill="#3c3c3c"/>
<polygon points="464.4,526.7 458.9,528 458.9,525.4" fill="#3c3c3c"/>
<rect x="407.3" y="517.6" width="6.4" height="7.6" fill="none" stroke="#555" stroke-width="1"/>
<text x="0" y="0" font-family="Liberation Sans" font-size="12.5" font-weight="normal" text-anchor="start" fill="#1e1e1e" transform="translate(415.2,525.2) rotate(0) scale(0.93,1)">80</text>
<line x1="261.9" y1="461.2" x2="273.9" y2="438.9" stroke="#3c3c3c" stroke-width="0.8"/>
<line x1="212.6" y1="461.2" x2="261.9" y2="461.2" stroke="#3c3c3c" stroke-width="0.8"/>
<polygon points="273.9,438.9 272.5,444.38 270.2,443.17" fill="#3c3c3c"/>
<text x="0" y="0" font-family="Liberation Sans" font-size="12.5" font-weight="normal" text-anchor="start" fill="#1e1e1e" transform="translate(215,458.2) rotate(0) scale(0.84,1)">M10</text>
<line x1="237" y1="449.8" x2="245.4" y2="458" stroke="#222" stroke-width="1.0"/>
<line x1="245.4" y1="449.8" x2="237" y2="458" stroke="#222" stroke-width="1.0"/>
<text x="0" y="0" font-family="Liberation Sans" font-size="12.5" font-weight="normal" text-anchor="start" fill="#1e1e1e" transform="translate(247.3,458.2) rotate(0) scale(0.93,1)">20</text>
<line x1="540.3" y1="467.8" x2="553.7" y2="439" stroke="#3c3c3c" stroke-width="0.8"/>
<line x1="540.3" y1="467.8" x2="598.1" y2="467.8" stroke="#3c3c3c" stroke-width="0.8"/>
<polygon points="553.7,439 552.48,444.52 550.14,443.39" fill="#3c3c3c"/>
<text x="0" y="0" font-family="Liberation Sans" font-size="12.5" font-weight="normal" text-anchor="start" fill="#1e1e1e" transform="translate(549.8,465.1) rotate(0) scale(0.84,1)">M10</text>
<line x1="570.4" y1="456.8" x2="578.8" y2="465" stroke="#222" stroke-width="1.0"/>
<line x1="578.8" y1="456.8" x2="570.4" y2="465" stroke="#222" stroke-width="1.0"/>
<text x="0" y="0" font-family="Liberation Sans" font-size="12.5" font-weight="normal" text-anchor="start" fill="#1e1e1e" transform="translate(582.8,465.1) rotate(0) scale(0.93,1)">20</text>
<defs><pattern id="hat" width="2.4" height="2.4" patternUnits="userSpaceOnUse" patternTransform="rotate(45)"><rect width="2.4" height="2.4" fill="#9a9a9a"/><line x1="0" y1="0" x2="0" y2="2.4" stroke="#3a3a3a" stroke-width="1"/><line x1="0" y1="0" x2="2.4" y2="0" stroke="#3a3a3a" stroke-width="1"/></pattern></defs>
<circle cx="156.5" cy="456.8" r="16" fill="url(#hat)" stroke="#3c3c3c" stroke-width="1.5"/>
<rect x="151.7" y="438" width="9.7" height="8.2" fill="#fff"/>
<polyline points="151.7,441.5 151.7,446.2 161.4,446.2 161.4,441.5" fill="none" stroke="#3c3c3c" stroke-width="1.1"/>
<line x1="151.7" y1="425.5" x2="151.7" y2="441.5" stroke="#3c3c3c" stroke-width="0.9"/>
<line x1="161.4" y1="425.5" x2="161.4" y2="441.5" stroke="#3c3c3c" stroke-width="0.9"/>
<line x1="141.3" y1="426.7" x2="171.7" y2="426.7" stroke="#3c3c3c" stroke-width="0.8"/>
<polygon points="151.7,426.7 146.2,428 146.2,425.4" fill="#3c3c3c"/>
<polygon points="161.4,426.7 166.9,425.4 166.9,428" fill="#3c3c3c"/>
<text x="0" y="0" font-family="Liberation Sans" font-size="12.5" font-weight="normal" text-anchor="middle" fill="#1e1e1e" transform="translate(157.1,424.4) rotate(0) scale(0.93,1)">8</text>
<line x1="121.6" y1="437.4" x2="161.4" y2="437.4" stroke="#3c3c3c" stroke-width="0.8"/>
<line x1="121.6" y1="472.6" x2="157" y2="472.6" stroke="#3c3c3c" stroke-width="0.8"/>
<line x1="122.9" y1="437.4" x2="122.9" y2="472.6" stroke="#3c3c3c" stroke-width="0.8"/>
<polygon points="122.9,437.4 124.2,442.9 121.6,442.9" fill="#3c3c3c"/>
<polygon points="122.9,472.6 121.6,467.1 124.2,467.1" fill="#3c3c3c"/>
<text x="0" y="0" font-family="Liberation Sans" font-size="12.5" font-weight="normal" text-anchor="middle" fill="#1e1e1e" transform="translate(120,453.8) rotate(-90) scale(0.93,1)">28</text>
<line x1="132.3" y1="456.8" x2="181.3" y2="456.8" stroke="#3c3c3c" stroke-width="0.8"/>
<line x1="156.5" y1="432.3" x2="156.5" y2="481.3" stroke="#3c3c3c" stroke-width="0.8"/>
<line x1="140.6" y1="457" x2="140.6" y2="499" stroke="#3c3c3c" stroke-width="0.8"/>
<line x1="172.6" y1="457" x2="172.6" y2="499" stroke="#3c3c3c" stroke-width="0.8"/>
<line x1="140.6" y1="496.9" x2="172.6" y2="496.9" stroke="#3c3c3c" stroke-width="0.8"/>
<polygon points="140.6,496.9 146.1,495.6 146.1,498.2" fill="#3c3c3c"/>
<polygon points="172.6,496.9 167.1,498.2 167.1,495.6" fill="#3c3c3c"/>
<text x="0" y="0" font-family="Liberation Sans" font-size="12.5" font-weight="normal" text-anchor="middle" fill="#1e1e1e" transform="translate(156,509.8) rotate(0) scale(0.93,1)">ø25h7</text>
<path d="M278.92,13.07 L280.30,14.45 M278.57,21.12 L280.30,17.90 M281.68,13.53 L289.15,13.53 M281.68,13.53 L281.68,18.13 L280.88,21.58 M282.60,15.37 L285.82,15.37 M282.83,16.75 L285.59,16.75 L285.59,19.28 L282.83,19.28 L282.83,16.75 M286.28,11.69 L286.74,17.32 L287.89,20.20 L289.27,21.58 L289.27,19.97 M287.66,11.69 L288.58,12.61 M288.81,16.52 L285.59,21.35" fill="none" stroke="#1e1e1e" stroke-width="1.35" stroke-linecap="square" stroke-linejoin="miter"/>
<path d="M292.65,11.92 L293.80,13.30 M291.96,15.14 L293.80,15.14 L293.80,19.74 L292.19,21.35 M293.80,19.97 L296.10,21.35 L302.77,21.58 M295.41,13.07 L302.31,13.07 M298.63,11.46 L298.63,19.97 M295.87,14.45 L301.39,14.45 L301.39,16.98 L295.87,16.98 L295.87,14.45 M298.63,17.21 L295.41,19.74 M298.63,17.21 L302.08,19.74" fill="none" stroke="#1e1e1e" stroke-width="1.35" stroke-linecap="square" stroke-linejoin="miter"/>
<path d="M307.11,11.69 L307.11,20.89 M307.11,16.06 L310.56,15.37 M306.19,21.58 L311.02,19.97 M312.63,11.46 L312.63,20.20 L313.32,21.35 L317.00,21.35 L317.23,19.28 M312.63,16.75 L316.77,14.45" fill="none" stroke="#1e1e1e" stroke-width="1.35" stroke-linecap="square" stroke-linejoin="miter"/>
<rect x="325" y="13.5" width="2" height="2" fill="#222"/><rect x="325" y="20" width="2" height="2" fill="#222"/>
<text x="341" y="22.5" font-family="Liberation Sans" font-size="13" font-weight="normal" text-anchor="middle" fill="#1e1e1e">1</text>
<path d="M348,21 L349.5,21 L349.5,23 L347.5,25.5" fill="none" stroke="#222" stroke-width="1.3"/>
<text x="364.3" y="22.5" font-family="Liberation Sans" font-size="13" font-weight="normal" text-anchor="middle" fill="#1e1e1e">2</text>
<path d="M775.34,18.45 L776.23,19.79 M780.26,18.45 L779.37,19.79 M774.44,20.46 L781.16,20.46 L781.16,25.17 L774.44,25.17 L774.44,20.46 M774.44,22.82 L781.16,22.82 M777.80,20.46 L777.80,28.98 M772.65,26.74 L782.95,26.74" fill="none" stroke="#1e1e1e" stroke-width="1.2" stroke-linecap="square" stroke-linejoin="miter"/>
<path d="M788.58,18.45 L785.90,23.38 M787.46,21.36 L787.46,28.98 M791.94,18.45 L792.39,19.79 M789.26,20.69 L795.53,20.69 M790.60,22.26 L791.50,26.29 M794.41,22.26 L793.29,26.29 M788.81,27.86 L795.98,27.86" fill="none" stroke="#1e1e1e" stroke-width="1.2" stroke-linecap="square" stroke-linejoin="miter"/>
<text x="0" y="0" font-family="Liberation Sans" font-size="12" font-weight="normal" text-anchor="start" fill="#1e1e1e" transform="translate(797.5,28.5) rotate(0) scale(0.8,1)">[</text>
<text x="0" y="0" font-family="Liberation Sans" font-size="8.6" font-weight="normal" text-anchor="middle" fill="#333" transform="translate(808.2,28.3) rotate(0) scale(0.78,1)">mm</text>
<text x="0" y="0" font-family="Liberation Sans" font-size="12" font-weight="normal" text-anchor="start" fill="#1e1e1e" transform="translate(816,28.5) rotate(0) scale(0.8,1)">]</text>
</svg></body></html>
